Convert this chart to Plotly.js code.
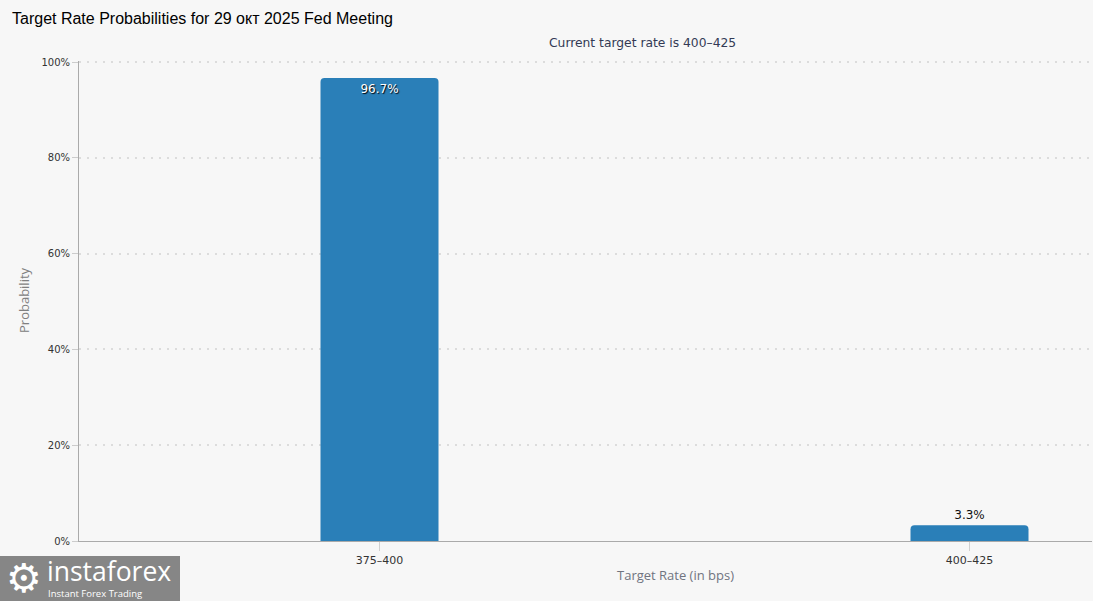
<!DOCTYPE html>
<html>
<head>
<meta charset="utf-8">
<script src="https://cdn.plot.ly/plotly-3.0.1.min.js"></script>
<style>html,body{margin:0;padding:0;background:#fff;}#chart{width:1093px;height:601px;}</style>
</head>
<body>
<div id="chart"></div>
<script>
// Data
const categories = ["375–400", "400–425"];
const probabilities = [96.7, 3.3];
const barLabels = ["96.7%", "3.3%"];
const yTickValues = [0, 20, 40, 60, 80, 100];
const yTickLabels = ["0%", "20%", "40%", "60%", "80%", "100%"];
const chartTitle = "Target Rate Probabilities for 29 окт 2025 Fed Meeting";
const subTitle = "Current target rate is 400–425";
const xTitle = "Target Rate (in bps)";
const yTitle = "Probability";

// pixel helpers for paper coordinates
const L = 79, R = 1092, T = 61, B = 541;
const px = x => (x - L) / (R - L);
const py = y => (B - y) / (B - T);

const trace = {
  type: "bar",
  x: categories,
  y: probabilities,
  text: barLabels,
  texttemplate: "%{text}",
  textposition: ["inside", "outside"],
  insidetextanchor: "end",
  constraintext: "none",
  cliponaxis: false,
  width: 0.2,
  marker: {color: "#2a7fb8", line: {width: 0}},
  textfont: {family: "DejaVu Sans", size: 12},
  insidetextfont: {family: "DejaVu Sans", size: 12, color: "#ffffff", shadow: "1px 1px 1px #000"},
  outsidetextfont: {family: "DejaVu Sans", size: 12, color: "#111111"},
  hoverinfo: "skip"
};

const layout = {
  width: 1093, height: 601,
  margin: {l: L, r: 1093 - R, t: T, b: 601 - B, pad: 0},
  paper_bgcolor: "#f7f7f7",
  plot_bgcolor: "#f7f7f7",
  showlegend: false,
  barcornerradius: 4,
  title: {
    text: chartTitle,
    font: {family: "Liberation Sans, Arial", size: 16, color: "#000"},
    xref: "container", yref: "container",
    x: 12 / 1093, xanchor: "left",
    y: 1 - 18 / 601, yanchor: "middle"
  },
  xaxis: {
    type: "category",
    range: [-(379.5 - L) / 590, 1 + (R - 969.5) / 590],
    showline: true, linecolor: "#aaaaaa", linewidth: 1,
    ticks: "outside", ticklen: 9, tickcolor: "#d0d0d0", tickwidth: 1,
    tickfont: {family: "DejaVu Sans", size: 11, color: "#333"},
    showgrid: false, zeroline: false, fixedrange: true
  },
  yaxis: {
    range: [0, 100.25],
    tickmode: "array",
    tickvals: yTickValues,
    ticktext: yTickLabels,
    showline: true, linecolor: "#aaaaaa", linewidth: 1,
    ticks: "outside", ticklen: 6, tickcolor: "#cccccc",
    tickfont: {family: "DejaVu Sans", size: 10, color: "#333"},
    showgrid: true, gridcolor: "#dcdcdc", gridwidth: 2, griddash: "2px,6px",
    zeroline: false, fixedrange: true
  },
  shapes: [
    {type: "rect", xref: "paper", yref: "paper", layer: "above",
     x0: px(0), x1: px(180), y0: py(601), y1: py(556),
     fillcolor: "rgba(128,128,128,0.95)", line: {width: 0}}
  ],
  annotations: [
    {text: subTitle, xref: "paper", yref: "paper", x: px(642), y: py(43),
     xanchor: "center", yanchor: "middle", showarrow: false,
     font: {family: "DejaVu Sans", size: 12.3, color: "#333a55"}},
    {text: xTitle, xref: "paper", yref: "paper", x: px(675), y: py(575),
     xanchor: "center", yanchor: "middle", showarrow: false,
     font: {family: "Open Sans", size: 13, color: "#707480"}},
    {text: yTitle, xref: "paper", yref: "paper", x: px(24), y: py(300),
     xanchor: "center", yanchor: "middle", showarrow: false, textangle: -90,
     font: {family: "Open Sans", size: 13, color: "#808080"}},
    {text: "⚙", xref: "paper", yref: "paper", x: px(24), y: py(578),
     xanchor: "center", yanchor: "middle", showarrow: false,
     font: {family: "DejaVu Sans", size: 40, color: "#ffffff"}},
    {text: "instaforex", xref: "paper", yref: "paper", x: px(45), y: py(571),
     xanchor: "left", yanchor: "middle", showarrow: false,
     font: {family: "Open Sans", size: 26.5, color: "#ffffff"}},
    {text: "Instant Forex Trading", xref: "paper", yref: "paper", x: px(46), y: py(593),
     xanchor: "left", yanchor: "middle", showarrow: false,
     font: {family: "Open Sans", size: 9.5, color: "#ffffff"}}
  ]
};

Plotly.newPlot("chart", [trace], layout, {displayModeBar: false, staticPlot: true});
</script>
</body>
</html>
